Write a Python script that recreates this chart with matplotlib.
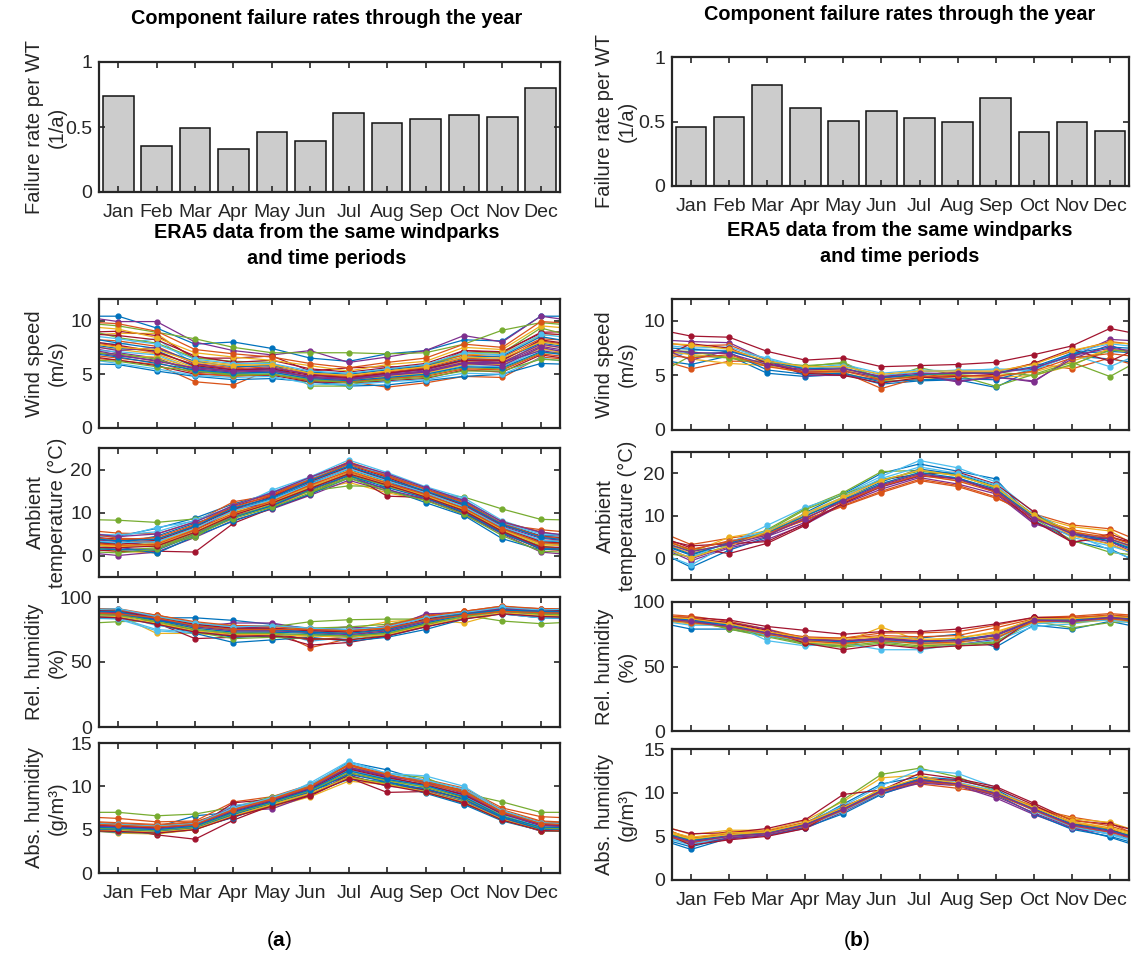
import matplotlib
matplotlib.use('Agg')
import matplotlib.pyplot as plt
import numpy as np

plt.rcParams['font.family'] = ['Liberation Sans', 'DejaVu Sans']
plt.rcParams['mathtext.fontset'] = 'custom'
plt.rcParams['mathtext.rm'] = 'Liberation Sans'
plt.rcParams['mathtext.bf'] = 'Liberation Sans:bold'

# ─── Data ─────────────────────────────────────────────────────────────────────
months = ['Jan', 'Feb', 'Mar', 'Apr', 'May', 'Jun',
          'Jul', 'Aug', 'Sep', 'Oct', 'Nov', 'Dec']

fail_a = [0.74, 0.355, 0.495, 0.333, 0.465, 0.392, 0.61, 0.527, 0.56, 0.59, 0.58, 0.80]
fail_b = [0.455, 0.535, 0.78, 0.608, 0.505, 0.58, 0.525, 0.50, 0.68, 0.42, 0.50, 0.43]

# (a) one row per windpark, Jan..Dec
wind_a = [
    [10.4, 9.3, 7.8, 8.0, 7.4, 6.5, 6.2, 6.9, 7.2, 8.2, 8.1, 10.4],
    [6.3, 5.9, 4.3, 4.0, 5.5, 4.6, 4.3, 3.8, 4.2, 4.8, 4.7, 6.6],
    [8.8, 8.8, 6.3, 5.9, 6.0, 5.0, 4.7, 5.3, 5.8, 6.8, 6.9, 8.6],
    [9.9, 9.9, 8.0, 7.2, 6.8, 7.2, 6.1, 6.6, 7.2, 8.6, 8.0, 10.4],
    [9.5, 8.9, 8.3, 7.5, 7.0, 7.0, 7.0, 6.9, 7.0, 7.8, 9.1, 9.8],
    [7.8, 8.3, 5.9, 5.0, 5.6, 4.4, 4.0, 4.4, 5.2, 6.0, 5.9, 8.0],
    [9.0, 8.6, 6.5, 6.5, 6.7, 5.3, 5.6, 5.7, 5.6, 7.2, 7.0, 8.9],
    [5.9, 5.3, 4.8, 4.5, 4.6, 4.3, 3.9, 4.0, 4.4, 4.8, 5.0, 6.0],
    [8.1, 7.6, 6.0, 5.6, 5.9, 5.1, 4.9, 5.5, 5.9, 6.8, 6.6, 8.3],
    [7.3, 6.9, 5.6, 5.3, 5.4, 4.7, 4.5, 4.9, 5.3, 6.2, 6.2, 7.7],
    [7.0, 6.5, 5.2, 5.0, 5.2, 4.6, 4.4, 4.9, 5.2, 6.0, 6.0, 7.6],
    [8.4, 7.9, 6.5, 6.2, 6.1, 3.9, 3.9, 5.0, 5.7, 7.0, 7.0, 9.3],
    [7.1, 6.8, 5.4, 5.0, 5.1, 4.5, 4.2, 4.7, 5.0, 5.8, 5.7, 7.3],
    [6.3, 5.8, 5.0, 4.9, 4.9, 4.3, 4.2, 4.4, 4.6, 5.4, 5.2, 6.8],
    [7.4, 7.2, 5.7, 5.3, 5.5, 4.7, 4.5, 5.1, 5.5, 6.4, 6.4, 7.9],
    [7.6, 7.0, 5.9, 5.5, 5.7, 5.0, 4.8, 5.2, 5.6, 6.5, 6.3, 8.1],
    [6.7, 6.6, 5.5, 5.1, 5.3, 4.6, 4.4, 4.8, 5.1, 5.9, 5.9, 7.4],
    [6.7, 6.3, 5.5, 5.2, 5.3, 4.8, 4.6, 5.0, 5.3, 6.1, 6.1, 7.2],
    [6.9, 6.4, 5.3, 5.0, 5.0, 4.4, 4.3, 4.6, 4.9, 5.6, 5.5, 7.0],
    [6.0, 5.5, 4.9, 4.7, 4.8, 4.1, 4.0, 4.3, 4.5, 5.1, 5.0, 6.5],
    [8.6, 8.2, 6.7, 6.1, 6.3, 5.5, 5.2, 5.6, 6.0, 7.2, 7.1, 8.8],
    [7.9, 7.4, 6.2, 5.7, 5.8, 5.2, 5.0, 5.4, 5.8, 6.6, 6.7, 8.5],
    [6.5, 6.1, 5.1, 4.8, 5.0, 4.4, 4.3, 4.6, 4.8, 5.5, 5.4, 6.9],
    [9.2, 8.4, 7.0, 6.6, 6.3, 5.8, 5.3, 5.9, 6.2, 7.5, 7.3, 9.5],
    [7.2, 7.5, 6.0, 5.4, 5.6, 5.0, 4.6, 5.1, 5.4, 6.3, 6.1, 7.8],
    [6.2, 5.7, 5.3, 4.9, 5.0, 4.5, 4.2, 4.5, 4.7, 5.3, 5.3, 6.4],
    [8.3, 7.8, 6.4, 6.0, 6.0, 5.3, 5.1, 5.5, 5.9, 7.0, 6.8, 8.7],
    [7.7, 7.1, 5.8, 5.4, 5.5, 4.9, 4.7, 5.1, 5.5, 6.3, 6.3, 8.2],
    [6.6, 6.0, 5.4, 5.1, 5.2, 4.6, 4.4, 4.7, 5.0, 5.7, 5.6, 7.1],
    [9.7, 9.0, 7.3, 6.9, 6.6, 6.0, 5.6, 6.1, 6.5, 7.8, 7.5, 9.9],
    [7.5, 7.3, 6.1, 5.8, 5.9, 5.1, 4.9, 5.3, 5.7, 6.6, 6.5, 8.0],
    [6.8, 6.2, 5.6, 5.3, 5.4, 4.7, 4.5, 4.9, 5.2, 6.0, 5.8, 7.5],
]
temp_a = [
    [4.5, 6.3, 8.7, 12.0, 14.5, 18.0, 21.3, 18.7, 15.5, 12.5, 7.5, 4.6],
    [5.2, 5.0, 7.8, 12.5, 14.0, 18.3, 21.5, 18.5, 15.0, 12.5, 7.2, 6.0],
    [1.0, 0.6, 4.5, 9.0, 11.3, 15.0, 17.0, 14.6, 12.8, 10.0, 5.2, 1.5],
    [0.0, 0.8, 4.2, 8.2, 10.8, 14.0, 17.5, 15.0, 13.0, 9.5, 5.0, 0.8],
    [8.2, 7.7, 8.5, 10.0, 12.0, 15.0, 16.2, 16.0, 14.5, 13.6, 10.8, 8.4],
    [4.2, 6.5, 8.0, 11.0, 15.2, 18.3, 22.2, 19.3, 16.0, 13.4, 8.1, 5.2],
    [1.0, 1.0, 0.8, 7.5, 11.0, 14.2, 19.0, 13.8, 13.5, 9.8, 5.3, 1.5],
    [2.0, 0.5, 4.5, 8.0, 11.0, 14.3, 18.0, 15.5, 12.3, 9.3, 3.9, 1.3],
    [3.5, 3.0, 6.0, 10.5, 13.0, 16.5, 20.5, 17.5, 14.5, 11.5, 6.5, 3.5],
    [2.5, 2.0, 5.5, 9.5, 12.0, 15.5, 19.5, 16.0, 13.5, 10.5, 5.8, 2.8],
    [1.5, 1.5, 5.0, 9.2, 11.5, 15.2, 18.5, 15.3, 13.2, 10.2, 5.5, 1.8],
    [3.0, 2.5, 4.2, 9.8, 12.5, 15.0, 18.2, 16.5, 14.0, 11.0, 6.0, 3.0],
    [1.7, 3.0, 7.0, 11.0, 13.5, 17.0, 20.5, 18.0, 15.2, 11.2, 6.0, 3.0],
    [3.8, 3.5, 6.5, 11.5, 13.8, 17.5, 21.0, 18.2, 14.8, 12.0, 7.0, 4.5],
    [2.8, 4.5, 7.5, 10.5, 13.2, 16.8, 20.0, 17.2, 14.2, 11.0, 6.2, 3.5],
    [4.0, 3.8, 7.0, 11.8, 14.2, 17.8, 21.8, 18.8, 15.5, 12.8, 7.8, 5.5],
    [2.2, 2.8, 6.2, 10.2, 12.8, 16.2, 19.8, 17.0, 14.0, 10.8, 6.0, 2.5],
    [3.2, 2.2, 5.8, 10.8, 12.2, 16.0, 19.2, 16.8, 14.6, 11.8, 6.8, 4.0],
    [1.2, 1.8, 5.2, 9.0, 11.8, 15.8, 18.8, 16.2, 13.8, 10.6, 5.6, 2.2],
    [4.8, 5.5, 8.2, 11.5, 14.8, 18.0, 21.0, 19.0, 15.8, 13.0, 7.6, 5.0],
    [2.6, 3.4, 6.6, 10.8, 13.6, 17.2, 20.6, 17.6, 14.8, 11.6, 6.6, 3.2],
    [1.4, 1.2, 4.8, 8.8, 11.6, 15.4, 18.6, 15.8, 13.4, 10.0, 5.2, 1.6],
    [3.6, 4.2, 7.2, 11.2, 14.0, 17.6, 21.2, 18.4, 15.4, 12.2, 7.4, 4.4],
    [2.0, 2.4, 5.6, 9.6, 12.4, 16.0, 19.2, 16.6, 13.8, 10.8, 6.0, 2.6],
    [4.4, 5.0, 7.8, 11.6, 14.6, 18.2, 21.6, 19.0, 15.8, 12.8, 7.8, 5.4],
    [0.6, 1.4, 4.8, 8.6, 11.2, 14.6, 18.0, 15.0, 12.8, 9.6, 4.6, 1.0],
    [3.0, 3.2, 6.4, 10.4, 13.0, 16.6, 20.2, 17.4, 14.6, 11.4, 6.6, 3.6],
    [1.8, 2.2, 5.4, 9.4, 12.2, 15.6, 19.0, 16.4, 13.6, 10.4, 5.6, 2.0],
    [3.4, 3.8, 6.8, 11.0, 13.4, 17.4, 20.8, 17.8, 15.0, 12.0, 7.2, 4.2],
    [2.4, 2.6, 6.0, 9.8, 12.6, 16.4, 19.6, 16.8, 14.2, 11.0, 6.2, 3.0],
]
rel_a = [
    [90, 84, 84, 82, 79, 76, 75, 77, 84, 88, 91, 90],
    [89, 86, 80, 71, 75, 61, 68, 78, 86, 89, 93, 90],
    [86, 72, 72, 70, 70, 70, 75, 81, 83, 80, 88, 86],
    [91, 82, 77, 80, 80, 75, 77, 75, 87, 88, 92, 91],
    [81, 82, 78, 78, 77, 81, 82.5, 83, 83, 86, 81.5, 79.5],
    [83, 74, 72, 74, 74, 66, 69, 72, 81, 85, 87, 84],
    [88, 80, 68, 69, 71, 63, 65, 70, 78, 87, 90, 88],
    [85, 79, 72, 65, 67, 69, 66, 69, 75, 83, 88, 85],
    [88, 83, 78, 75, 74, 73, 72, 74, 82, 87, 91, 89],
    [87, 81, 76, 73, 73, 74, 74, 76, 80, 86, 89, 87],
    [90, 85, 79, 77, 76, 72, 70, 73, 83, 88, 92, 90],
    [87, 84, 80, 76, 75, 76, 77, 79, 84, 87, 89, 86],
    [86, 78, 75, 72, 72, 70, 71, 71, 80, 84, 88, 86],
    [89, 82, 74, 71, 72, 67, 69, 72, 80, 87, 91, 89],
    [84, 80, 74, 69, 70, 71, 70, 70, 77, 84, 87, 84],
    [91, 86, 81, 78, 78, 75, 73, 78, 85, 89, 92, 91],
    [88, 81, 77, 74, 75, 72, 72, 74, 81, 86, 90, 88],
    [86, 83, 79, 76, 76, 74, 75, 77, 82, 86, 88, 87],
    [89, 80, 73, 68, 69, 68, 67, 71, 79, 86, 90, 88],
    [84, 75, 73, 74, 74, 73, 68, 72, 81, 85, 87, 84],
    [89, 84, 79, 76, 76, 74, 73, 75, 83, 88, 91, 90],
    [87, 82, 76, 73, 73, 72, 70, 73, 80, 86, 90, 88],
    [90, 86, 80, 78, 77, 76, 74, 77, 85, 89, 93, 91],
    [85, 80, 74, 71, 71, 70, 69, 71, 78, 84, 88, 86],
    [88, 83, 77, 74, 74, 73, 71, 74, 81, 87, 91, 89],
    [86, 81, 75, 72, 72, 71, 70, 72, 79, 85, 89, 87],
    [91, 85, 80, 77, 78, 76, 75, 77, 84, 88, 92, 90],
    [84, 79, 73, 70, 70, 68, 67, 70, 77, 83, 87, 85],
    [89, 82, 78, 75, 75, 73, 72, 75, 82, 87, 90, 89],
    [87, 84, 78, 75, 75, 75, 74, 76, 82, 86, 89, 88],
]
abs_a = [
    [5.3, 5.3, 6.6, 7.0, 8.3, 10.0, 12.8, 11.9, 10.6, 9.5, 7.0, 5.5],
    [6.3, 5.9, 6.0, 8.2, 8.8, 10.2, 12.5, 11.0, 10.8, 9.8, 7.5, 6.5],
    [4.6, 4.5, 5.0, 6.5, 7.6, 8.8, 10.6, 10.2, 9.6, 8.4, 6.5, 5.0],
    [5.0, 4.8, 5.5, 7.2, 7.4, 9.0, 11.3, 10.0, 9.8, 8.5, 6.3, 4.8],
    [7.0, 6.6, 6.8, 7.6, 8.8, 9.8, 12.0, 11.5, 11.0, 9.2, 8.2, 7.0],
    [4.9, 4.8, 5.6, 7.8, 8.3, 10.4, 12.9, 11.5, 11.2, 10.0, 7.2, 5.1],
    [5.2, 4.4, 3.9, 6.1, 7.8, 8.9, 11.0, 9.3, 9.4, 8.0, 6.2, 5.2],
    [4.7, 4.6, 5.2, 6.4, 8.0, 9.2, 10.8, 10.4, 9.2, 7.9, 6.0, 4.9],
    [5.5, 5.2, 5.6, 7.0, 8.2, 9.6, 11.8, 10.8, 10.2, 9.0, 6.8, 5.6],
    [5.4, 5.0, 5.4, 6.8, 7.9, 9.4, 12.3, 11.0, 10.0, 8.8, 6.6, 5.4],
    [5.1, 5.0, 5.3, 7.5, 8.1, 9.3, 11.5, 10.6, 9.5, 8.2, 6.4, 5.0],
    [5.6, 5.4, 5.8, 7.3, 8.6, 10.0, 12.2, 11.3, 10.5, 9.4, 7.0, 5.8],
    [4.8, 4.9, 5.5, 7.1, 8.4, 9.9, 11.8, 10.7, 10.3, 9.0, 6.7, 5.3],
    [5.3, 5.1, 5.2, 8.1, 8.5, 9.7, 11.2, 10.2, 9.6, 8.6, 6.6, 5.5],
    [4.9, 4.7, 5.1, 6.7, 8.2, 9.5, 10.9, 10.5, 9.4, 8.3, 6.2, 5.0],
    [5.8, 5.6, 5.9, 7.4, 8.6, 9.9, 12.6, 11.2, 10.4, 9.6, 7.3, 6.0],
    [5.0, 5.1, 5.4, 6.9, 8.0, 9.5, 11.6, 10.6, 9.9, 8.7, 6.5, 5.2],
    [5.5, 5.3, 5.7, 7.6, 8.4, 9.8, 12.1, 11.1, 10.1, 9.1, 6.9, 5.7],
    [4.8, 4.6, 5.0, 6.6, 7.8, 9.1, 11.1, 10.3, 9.3, 8.1, 6.1, 4.9],
    [5.2, 5.0, 5.5, 7.2, 8.2, 9.6, 11.9, 10.9, 10.0, 8.9, 6.7, 5.3],
    [5.4, 5.2, 5.6, 7.1, 8.3, 9.7, 12.0, 11.0, 10.2, 9.0, 6.8, 5.6],
    [5.0, 4.8, 5.2, 6.8, 8.0, 9.4, 11.4, 10.5, 9.7, 8.5, 6.4, 5.1],
    [5.7, 5.5, 5.8, 7.4, 8.6, 10.1, 12.4, 11.3, 10.6, 9.4, 7.1, 5.9],
    [4.9, 4.7, 5.1, 6.6, 7.9, 9.2, 11.0, 10.2, 9.4, 8.2, 6.2, 4.9],
    [5.3, 5.1, 5.5, 7.2, 8.4, 9.8, 12.2, 11.2, 10.4, 9.2, 6.9, 5.5],
    [5.1, 4.9, 5.3, 6.9, 8.1, 9.5, 11.6, 10.7, 9.9, 8.7, 6.6, 5.2],
    [5.6, 5.4, 5.7, 7.5, 8.7, 10.2, 12.7, 11.5, 10.7, 9.7, 7.2, 5.8],
    [4.8, 4.6, 5.0, 6.5, 7.7, 9.0, 10.9, 10.1, 9.3, 8.1, 6.1, 4.9],
    [5.2, 5.0, 5.4, 7.0, 8.2, 9.6, 11.8, 10.8, 10.1, 8.8, 6.5, 5.3],
    [5.5, 5.3, 5.6, 7.3, 8.5, 9.9, 12.5, 11.4, 10.3, 9.3, 7.0, 5.7],
]

# (b)
wind_b = [
    [6.0, 6.8, 5.2, 4.9, 5.1, 4.2, 4.5, 4.6, 3.9, 5.6, 6.8, 6.5],
    [5.6, 6.3, 6.3, 5.3, 5.3, 3.8, 4.8, 5.3, 5.3, 6.1, 5.6, 6.6],
    [6.5, 6.1, 5.9, 5.2, 5.2, 4.5, 4.6, 4.9, 4.8, 5.0, 5.9, 7.5],
    [8.1, 8.0, 6.4, 5.0, 5.0, 4.6, 5.0, 4.4, 4.9, 4.4, 6.7, 8.3],
    [6.8, 6.6, 5.9, 5.8, 6.2, 4.6, 5.7, 5.0, 4.0, 5.1, 6.2, 4.9],
    [7.3, 7.3, 6.6, 5.7, 6.0, 5.2, 5.5, 5.4, 5.6, 5.5, 6.9, 5.8],
    [8.6, 8.5, 7.2, 6.4, 6.6, 5.8, 5.9, 6.0, 6.2, 6.9, 7.7, 9.3],
    [7.0, 7.1, 5.5, 5.1, 5.2, 4.4, 4.6, 4.7, 4.6, 5.6, 7.0, 7.2],
    [7.7, 7.8, 6.4, 5.5, 5.6, 4.9, 5.0, 5.3, 5.2, 6.1, 7.2, 8.1],
    [6.9, 6.7, 6.0, 5.4, 5.5, 4.7, 4.8, 5.0, 5.0, 5.3, 6.3, 7.4],
    [6.4, 7.3, 6.2, 5.3, 5.4, 4.8, 5.0, 4.5, 4.8, 4.5, 6.5, 7.8],
    [7.2, 6.6, 6.2, 5.9, 6.1, 4.5, 5.1, 5.1, 5.3, 5.0, 6.0, 7.3],
    [7.5, 7.6, 6.5, 5.6, 5.9, 5.0, 5.3, 5.5, 5.5, 5.4, 7.1, 7.9],
    [7.9, 7.5, 6.1, 5.2, 5.0, 4.3, 4.8, 4.9, 5.1, 6.1, 7.4, 6.3],
    [7.4, 7.2, 6.3, 5.6, 5.7, 4.8, 5.1, 5.2, 5.2, 5.8, 7.0, 7.6],
    [6.6, 6.9, 5.8, 5.3, 5.4, 4.6, 4.9, 5.0, 4.9, 5.4, 6.6, 7.0],
    [7.8, 7.4, 6.3, 5.8, 5.8, 5.1, 5.4, 5.4, 5.4, 6.0, 7.3, 8.0],
    [7.1, 7.0, 6.0, 5.5, 5.6, 4.9, 5.2, 5.2, 5.2, 5.7, 6.8, 7.5],
]
temp_b = [
    [-2.0, 2.0, 5.0, 10.8, 15.2, 20.0, 22.2, 20.5, 18.7, 9.0, 4.2, 2.3],
    [3.3, 4.8, 6.0, 9.0, 12.3, 15.5, 18.3, 16.9, 14.2, 10.5, 7.9, 7.0],
    [1.5, 5.0, 6.5, 9.5, 13.5, 17.0, 19.5, 18.3, 16.0, 10.0, 7.5, 6.5],
    [-0.5, 2.5, 4.5, 8.0, 12.8, 16.3, 19.0, 17.5, 15.2, 8.2, 5.5, 3.5],
    [0.5, 3.0, 6.8, 11.8, 15.5, 20.4, 20.7, 19.7, 16.5, 9.5, 4.3, 1.5],
    [-1.5, 3.5, 7.8, 12.0, 15.0, 19.3, 23.0, 21.3, 18.0, 10.8, 6.0, 2.0],
    [2.5, 1.2, 3.6, 7.8, 14.5, 18.5, 19.8, 20.3, 17.5, 11.0, 3.7, 5.8],
    [0.8, 3.8, 6.2, 10.0, 14.0, 18.0, 21.0, 19.8, 17.0, 10.2, 6.3, 4.0],
    [2.0, 4.2, 5.5, 9.2, 12.5, 15.8, 18.6, 17.2, 14.5, 9.5, 6.8, 5.3],
    [1.2, 3.5, 5.8, 10.2, 14.2, 17.5, 20.0, 18.7, 16.2, 10.0, 6.5, 4.5],
    [0.0, 2.8, 5.2, 8.5, 13.0, 16.8, 19.3, 19.0, 15.5, 8.5, 5.5, 4.0],
    [1.8, 3.2, 6.5, 11.5, 15.0, 18.5, 20.5, 19.5, 16.8, 10.3, 5.8, 4.6],
    [0.3, 4.0, 6.5, 10.5, 14.5, 18.8, 21.5, 20.0, 17.3, 9.8, 5.0, 3.0],
    [3.0, 3.5, 4.0, 8.2, 13.0, 17.0, 19.5, 18.8, 15.8, 8.8, 3.9, 5.0],
    [1.0, 3.6, 6.0, 10.0, 13.8, 17.6, 20.2, 18.9, 16.3, 9.8, 5.8, 4.2],
    [2.2, 4.0, 5.8, 9.6, 13.3, 17.0, 19.6, 18.2, 15.6, 9.6, 6.2, 5.0],
    [0.2, 3.0, 6.3, 10.6, 14.4, 18.3, 20.8, 19.4, 16.8, 10.2, 5.4, 3.4],
    [1.6, 3.4, 5.5, 9.4, 13.6, 17.3, 19.9, 18.6, 16.0, 9.4, 5.9, 4.6],
]
rel_b = [
    [79, 79, 74, 68, 66, 72, 72, 75, 65, 82, 79, 85],
    [89, 85, 79, 72, 72, 76, 76, 77, 82, 88, 89, 91],
    [84, 80, 75, 70, 69, 80.5, 70, 72, 77, 86, 87, 88],
    [87, 84, 79, 70, 68, 73, 68, 67, 71, 88, 85, 87],
    [86, 79, 73, 67, 65, 68, 65, 66, 68, 85, 80, 84],
    [84, 84, 70, 66, 68, 63, 63, 67, 70, 81, 83, 87],
    [88, 86, 81, 78, 75, 77, 77, 79, 83, 88, 88, 89],
    [85, 82, 77, 71, 70, 69, 69, 70, 74, 86, 86, 88],
    [88, 83, 77, 73, 72, 74, 73, 74, 80, 87, 88, 90],
    [83, 81, 75, 69, 67, 71, 67, 68, 73, 84, 84, 86],
    [86, 83, 76, 72, 70, 72, 70, 70, 75, 87, 86, 89],
    [85, 80, 74, 68, 66, 69, 66, 67, 69, 86, 84, 87],
    [82, 82, 74, 70, 69, 70, 68, 69, 72, 83, 85, 86],
    [87, 84, 78, 68, 63, 67, 64, 66, 67, 88, 87, 88],
    [86, 82, 76, 71, 69, 71, 69, 71, 74, 86, 86, 88],
    [84, 81, 75, 70, 68, 70, 68, 69, 72, 85, 85, 87],
    [87, 83, 77, 72, 71, 73, 71, 72, 76, 87, 87, 89],
    [85, 81, 76, 71, 70, 71, 70, 70, 74, 86, 85, 88],
]
abs_b = [
    [3.5, 4.8, 5.3, 6.3, 8.7, 11.0, 11.8, 11.5, 10.4, 8.0, 6.0, 4.9],
    [4.6, 5.6, 5.6, 6.5, 8.0, 10.5, 11.0, 10.5, 9.8, 8.2, 7.2, 6.5],
    [5.2, 5.7, 5.7, 6.8, 9.0, 11.7, 12.0, 11.0, 10.0, 8.5, 7.0, 6.6],
    [4.2, 4.7, 5.1, 5.9, 7.8, 9.9, 11.1, 10.8, 9.4, 7.5, 5.9, 5.3],
    [4.5, 5.0, 5.4, 6.4, 9.2, 12.1, 12.8, 11.8, 10.2, 8.0, 6.4, 5.8],
    [4.0, 5.1, 5.5, 6.6, 8.5, 10.8, 12.6, 12.2, 10.6, 8.2, 6.2, 5.2],
    [5.3, 5.4, 5.9, 6.9, 9.8, 10.3, 12.2, 11.6, 10.7, 8.8, 6.8, 6.4],
    [3.8, 4.9, 5.2, 6.0, 7.6, 9.8, 11.3, 10.9, 9.8, 7.6, 5.8, 5.0],
    [4.8, 5.3, 5.6, 6.6, 8.3, 10.2, 11.6, 11.0, 10.1, 8.4, 6.9, 6.2],
    [4.9, 5.4, 5.5, 6.5, 8.2, 10.4, 11.5, 10.8, 10.0, 8.3, 6.7, 6.0],
    [4.3, 4.8, 5.2, 6.1, 8.0, 10.0, 11.2, 10.9, 9.6, 7.7, 6.0, 5.5],
    [4.6, 5.1, 5.4, 6.3, 8.1, 10.1, 11.4, 11.0, 9.9, 8.1, 6.3, 5.7],
    [4.1, 5.0, 5.3, 6.2, 7.9, 10.0, 11.7, 11.2, 10.2, 7.9, 6.1, 5.3],
    [4.0, 4.6, 5.0, 5.9, 8.4, 10.2, 11.6, 11.4, 10.5, 8.6, 6.5, 5.9],
    [4.5, 5.1, 5.4, 6.4, 8.2, 10.3, 11.5, 11.0, 10.0, 8.2, 6.4, 5.7],
    [4.3, 5.0, 5.3, 6.2, 8.0, 10.1, 11.3, 10.9, 9.8, 8.0, 6.2, 5.5],
    [4.7, 5.2, 5.5, 6.5, 8.3, 10.4, 11.7, 11.1, 10.1, 8.3, 6.6, 5.9],
    [4.4, 5.0, 5.3, 6.3, 8.1, 10.2, 11.4, 11.0, 9.9, 8.1, 6.3, 5.6],
]

# MATLAB default colour order
COLORS = ['#0072BD', '#D95319', '#EDB120', '#7E2F8E', '#77AC30', '#4DBEEE', '#A2142F']
AX_COLOR = '#262626'

W, H = 1131, 956
fig = plt.figure(figsize=(W / 100, H / 100), dpi=100)


def rect(left, top, width, bottom):
    return [left / W, 1 - bottom / H, width / W, (bottom - top) / H]


def style_axes(ax, show_xlabels):
    ax.set_xlim(0.5, 12.5)
    ax.set_xticks(range(1, 13))
    ax.set_xticklabels(months if show_xlabels else [])
    ax.tick_params(direction='in', top=True, right=True, length=4, width=1.2,
                   colors=AX_COLOR, labelsize=14, pad=5)
    ax.tick_params(axis='x', pad=8.5)
    for s in ax.spines.values():
        s.set_color(AX_COLOR)
        s.set_linewidth(1.6)


def bar_panel(ax, vals):
    ax.bar(range(1, 13), vals, width=0.8, color='#CCCCCC', edgecolor='#111111', linewidth=1.1)
    ax.set_ylim(0, 1)
    ax.set_yticks([0, 0.5, 1])
    ax.set_yticklabels(['0', '0.5', '1'])
    style_axes(ax, True)


def line_panel(ax, rows, ylim, yticks, show_xlabels):
    x = np.arange(0, 14)
    for i, r in enumerate(rows):
        y = [r[-1]] + list(r) + [r[0]]  # wrap Dec/Jan to the axis edges
        ax.plot(x, y, '-', marker='.', markersize=7, linewidth=0.9,
                color=COLORS[i % len(COLORS)])
    ax.set_ylim(*ylim)
    ax.set_yticks(yticks)
    style_axes(ax, show_xlabels)


ylab_kw = dict(rotation=90, ha='center', va='center', fontsize=14.5,
               color=AX_COLOR, multialignment='center')
head_kw = dict(ha='center', va='center', fontsize=14.3, fontweight='bold', color='black')

columns = [
    dict(left=99, width=461, lx=46, bar=(62, 192), title_y=18, era_y=(232, 258),
         panels=[(299, 428), (448, 577), (597, 727), (743, 873)],
         fail=fail_a, data=[wind_a, temp_a, rel_a, abs_a], tag='a', cx=327, tx=279),
    dict(left=672, width=457, lx=616, bar=(57, 186), title_y=15, era_y=(230, 257),
         panels=[(299, 430), (452, 580), (602, 731), (749, 880)],
         fail=fail_b, data=[wind_b, temp_b, rel_b, abs_b], tag='b', cx=900, tx=857),
]

line_specs = [
    ('Wind speed\n(m/s)', (0, 12), [0, 5, 10]),
    ('Ambient\ntemperature (°C)', (-5, 25), [0, 10, 20]),
    ('Rel. humidity\n(%)', (0, 100), [0, 50, 100]),
    ('Abs. humidity\n(g/m³)', (0, 15), [0, 5, 10, 15]),
]

for col in columns:
    L, Wd = col['left'], col['width']
    t, b = col['bar']
    ax = fig.add_axes(rect(L, t, Wd, b))
    bar_panel(ax, col['fail'])
    fig.text(col['lx'] / W, 1 - (t + b) / 2 / H, 'Failure rate per WT\n(1/a)', **ylab_kw)
    fig.text(col['cx'] / W, 1 - col['title_y'] / H, 'Component failure rates through the year', **head_kw)
    fig.text(col['cx'] / W, 1 - col['era_y'][0] / H, 'ERA5 data from the same windparks', **head_kw)
    fig.text(col['cx'] / W, 1 - col['era_y'][1] / H, 'and time periods', **head_kw)

    for k, ((pt, pb), rows, (lab, ylim, yt)) in enumerate(zip(col['panels'], col['data'], line_specs)):
        ax = fig.add_axes(rect(L, pt, Wd, pb))
        line_panel(ax, rows, ylim, yt, show_xlabels=(k == 3))
        fig.text(col['lx'] / W, 1 - (pt + pb) / 2 / H, lab, **ylab_kw)

    fig.text(col['tx'] / W, 1 - 940 / H, r'($\mathbf{%s}$)' % col['tag'],
             ha='center', va='center', fontsize=15, color='black')

fig.savefig('out.png', dpi=100, facecolor='white')
plt.close(fig)
